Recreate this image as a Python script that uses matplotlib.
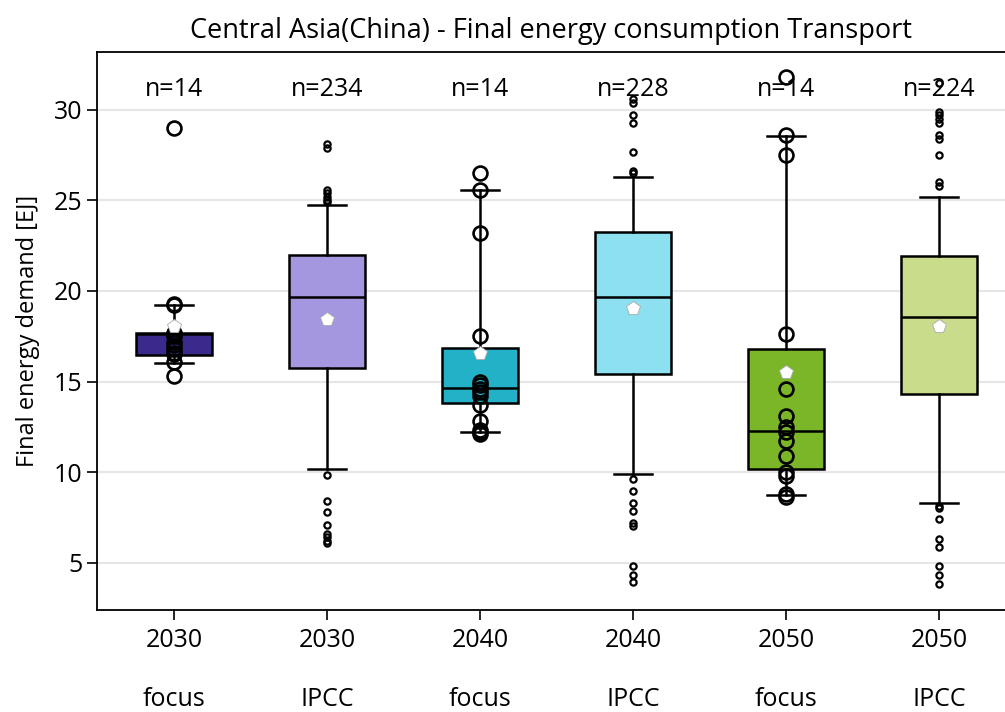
import numpy as np
import matplotlib.pyplot as plt

plt.rcParams['font.family'] = ['Open Sans', 'DejaVu Sans']

years = ['2030', '2030', '2040', '2040', '2050', '2050']
sources = ['focus', 'IPCC', 'focus', 'IPCC', 'focus', 'IPCC']
counts = [14, 234, 14, 228, 14, 224]
colors = ['#3b2a8c', '#a597df', '#22b1c6', '#8ce0ef', '#7ab628', '#c8dc8b']

# box statistics [EJ]
q1 = [16.46, 15.75, 13.83, 15.41, 10.15, 14.29]
med = [17.62, 19.68, 14.62, 19.69, 12.27, 18.55]
q3 = [17.68, 22.0, 16.87, 23.24, 16.78, 21.95]
whislo = [16.02, 10.15, 12.19, 9.87, 8.75, 8.27]
whishi = [19.23, 24.75, 25.58, 26.32, 28.56, 25.21]
means = [18.05, 18.44, 16.56, 19.04, 15.54, 18.07]

# individual focus scenarios (all points drawn)
focus_2030 = [29.0, 19.3, 19.2, 17.7, 17.6, 17.6, 17.5, 17.2, 17.0, 16.8, 16.6, 16.5, 16.1, 15.3]
focus_2040 = [26.5, 25.6, 23.2, 17.5, 15.0, 14.8, 14.6, 14.4, 14.2, 13.7, 12.8, 12.3, 12.2, 12.1]
focus_2050 = [31.8, 28.6, 27.5, 17.6, 14.6, 13.1, 12.5, 12.2, 11.7, 10.9, 10.0, 9.8, 8.8, 8.6]

# IPCC outliers
ipcc_2030_fliers = [28.1, 27.9, 25.6, 25.4, 25.2, 25.0, 24.9, 9.85, 8.4, 7.8, 7.1, 6.6, 6.4, 6.2, 6.1]
ipcc_2040_fliers = [30.6, 30.4, 29.7, 29.3, 27.7, 26.6, 26.5, 9.6, 8.95, 8.3, 7.85, 7.2, 7.0, 4.8, 4.3, 3.9]
ipcc_2050_fliers = [31.5, 29.9, 29.7, 29.5, 29.3, 28.6, 28.4, 27.5, 26.0, 25.8,
                    8.1, 8.0, 7.4, 6.3, 5.85, 4.8, 4.3, 3.8]

points = [focus_2030, None, focus_2040, None, focus_2050, None]
fliers = [[], ipcc_2030_fliers, [], ipcc_2040_fliers, [], ipcc_2050_fliers]

stats = []
for i in range(len(years)):
    stats.append(dict(q1=q1[i], med=med[i], q3=q3[i], whislo=whislo[i],
                      whishi=whishi[i], mean=means[i], fliers=fliers[i]))

fig = plt.figure(figsize=(10.05, 7.12), dpi=100)
ax = fig.add_axes([0.0965, 0.143, 0.9035, 0.784])

pos = np.arange(len(years))
bp = ax.bxp(stats, positions=pos, widths=0.5, patch_artist=True, showmeans=True,
            boxprops=dict(edgecolor='black', linewidth=1.8),
            medianprops=dict(color='black', linewidth=1.8),
            whiskerprops=dict(color='black', linewidth=1.8),
            capprops=dict(color='black', linewidth=1.8),
            flierprops=dict(marker='o', markersize=4.5, markerfacecolor='none',
                            markeredgecolor='black', markeredgewidth=1.6),
            meanprops=dict(marker='p', markersize=10, markerfacecolor='white',
                           markeredgecolor='#aaaaaa', markeredgewidth=0.6))
for patch, c in zip(bp['boxes'], colors):
    patch.set_facecolor(c)

for i, pts in enumerate(points):
    if pts is None:
        continue
    ax.plot([pos[i]] * len(pts), pts, 'o', markersize=10, markerfacecolor='none',
            markeredgecolor='black', markeredgewidth=1.9, zorder=3)
for m in bp['means']:
    m.set_zorder(4)

for i, n in enumerate(counts):
    ax.text(pos[i], 31.15, f'n={n}', ha='center', va='center', fontsize=18)

ax.set_xlim(-0.503, 5.43)
ax.set_ylim(2.37, 33.2)
ax.set_yticks([5, 10, 15, 20, 25, 30])
ax.set_xticks(pos)
ax.set_xticklabels([f'{y}\n\n{s}' for y, s in zip(years, sources)], linespacing=1.22)
ax.tick_params(labelsize=18, length=7, width=1.2)
ax.tick_params(axis='x', pad=6)
ax.yaxis.grid(True, color='#e6e6e6', linewidth=1.5)
ax.set_axisbelow(True)
ax.spines['right'].set_visible(False)
for s in ['left', 'bottom', 'top']:
    ax.spines[s].set_linewidth(1.3)

ax.set_ylabel('Final energy demand [EJ]', fontsize=17, labelpad=10)
ax.set_title('Central Asia(China) - Final energy consumption Transport', fontsize=19.5, pad=10)

fig.savefig('out.png')
